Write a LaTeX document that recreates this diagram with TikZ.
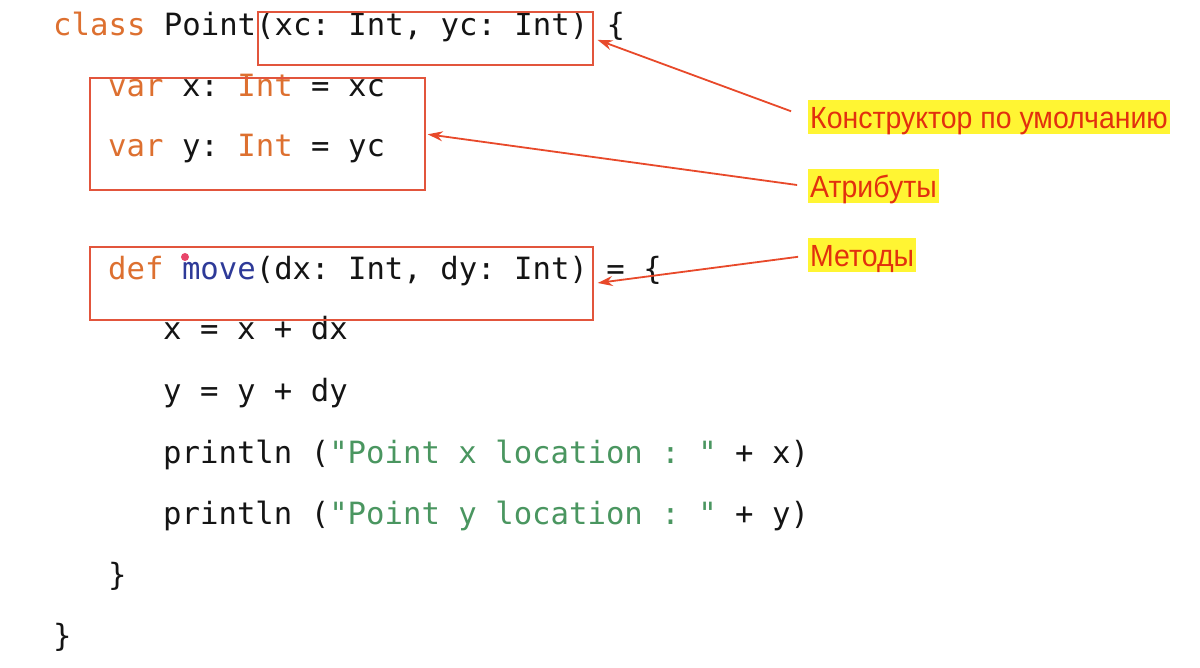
\documentclass[tikz,border=0pt]{standalone}
\usepackage{fontspec}
\newfontfamily\codefont{DejaVu Sans Mono}
\newfontfamily\labfont{Liberation Sans}
\usetikzlibrary{arrows.meta,calc}
\definecolor{kwc}{HTML}{DD7030}
\definecolor{fnc}{HTML}{2E3A98}
\definecolor{strc}{HTML}{4A9660}
\definecolor{txtc}{HTML}{141414}
\definecolor{boxc}{HTML}{E2553C}
\definecolor{arrc}{HTML}{E8492A}
\definecolor{hlc}{HTML}{FFF533}
\definecolor{labc}{HTML}{E2300E}
\definecolor{dotc}{HTML}{E8456A}
\newcommand{\kw}[1]{\textcolor{kwc}{#1}}
\newcommand{\fn}[1]{\textcolor{fnc}{#1}}
\newcommand{\str}[1]{\textcolor{strc}{#1}}
\newcommand{\labtxt}[1]{\scalebox{0.93}[1]{#1}}
\begin{document}
\begin{tikzpicture}[x=1pt,y=-1pt,
  codeline/.style={anchor=base west, inner sep=0pt, text=txtc,
    font=\codefont\fontsize{30.65}{36}\selectfont\frenchspacing},
  hlbox/.style={draw=boxc, line width=1.5pt, rectangle, inner sep=0pt},
  lab/.style={anchor=west, fill=hlc, text=labc, inner xsep=2pt, inner ysep=1.5pt,
    text height=27pt, text depth=4pt, font=\labfont\fontsize{30.6}{36}\selectfont},
  callout/.style={draw=arrc, line width=1.8pt, -{Stealth[length=15pt,width=10pt]}}
]
\useasboundingbox (0,0) rectangle (1200,668);
\fill[white] (0,0) rectangle (1200,668);

% code
\node[codeline] (l1) at (53,36) {\kw{class} Point(xc: Int, yc: Int) \{};
\node[codeline] (l2) at (108,97) {\kw{var} x: \kw{Int} = xc};
\node[codeline] (l3) at (108,157) {\kw{var} y: \kw{Int} = yc};
\node[codeline] (l4) at (108,280) {\kw{def} \fn{move}(dx: Int, dy: Int) = \{};
\node[codeline] (l5) at (163,340) {x = x + dx};
\node[codeline] (l6) at (163,401) {y = y + dy};
\node[codeline] (l7) at (163,463) {println (\str{"Point x location : "} + x)};
\node[codeline] (l8) at (163,524) {println (\str{"Point y location : "} + y)};
\node[codeline] (l9) at (108,585) {\}};
\node[codeline] (l10) at (53,646) {\}};

% boxes
\node[hlbox, minimum width=335pt, minimum height=53pt] (box1) at (425.5,38.5) {};
\node[hlbox, minimum width=335pt, minimum height=112pt] (box2) at (257.5,134) {};
\node[hlbox, minimum width=503pt, minimum height=73pt] (box3) at (341.5,283.5) {};

% labels
\node[lab] (lab1) at (808,117.5) {\labtxt{Конструктор по умолчанию}};
\node[lab] (lab2) at (808,186.5) {\labtxt{Атрибуты}};
\node[lab] (lab3) at (808,255.5) {\labtxt{Методы}};

% callouts
\draw[callout, shorten <=18pt, shorten >=4pt] (lab1.west) -- (box1.east);
\draw[callout, shorten <=11pt, shorten >=2pt] (lab2.west) -- (box2.east);
\draw[callout, shorten <=10pt, shorten >=4pt] (lab3.west) -- (box3.east);

% pointer dot
\fill[dotc] (185,257) circle (4pt);
\end{tikzpicture}
\end{document}
